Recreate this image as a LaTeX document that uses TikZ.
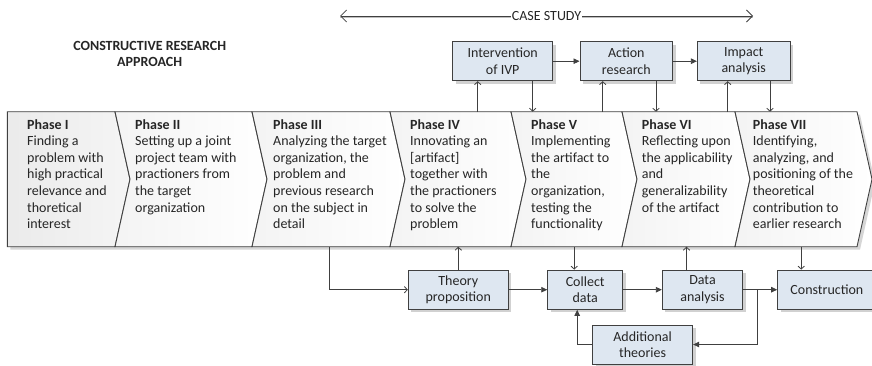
\documentclass[tikz,border=0pt]{standalone}
\usepackage{fontspec}
\setmainfont{Carlito}
\usetikzlibrary{arrows.meta,shadows}
\definecolor{linec}{HTML}{404040}
\definecolor{boxblue}{HTML}{DEE7F1}
\definecolor{txt}{HTML}{262626}
\tikzset{
  fs/.style={font=\fontsize{14pt}{16.6pt}\selectfont},
  bx/.style={fs, draw=linec, line width=0.9pt, fill=boxblue, align=center, inner sep=0pt,
             text=txt, drop shadow={shadow xshift=3pt, shadow yshift=-3pt, fill=black!18, opacity=1}},
  ptext/.style={fs, align=left, anchor=north west, inner sep=0pt, text=txt},
  oarr/.style={draw=linec, line width=0.8pt, -{Straight Barb[length=3pt,width=6.5pt]}},
  farr/.style={draw=linec, line width=0.8pt, -{Triangle[length=6pt,width=5.5pt]}},
  chevron/.style={draw=linec, line width=0.9pt},
}
\begin{document}
\begin{tikzpicture}[x=1pt,y=-1pt]
\useasboundingbox (0,0) rectangle (872,365);

% ---- chevrons ----
\fill[black!16] (10.3,114.7) -- (860,114.7) -- (875,182.2) -- (860,249.7) -- (10.3,249.7) -- cycle;
\path[chevron, left color=gray!16, right color=gray!8]
  (7.3,111.7) -- (115,111.7) -- (130,179.2) -- (115,246.7) -- (7.3,246.7) -- cycle;
\foreach \l/\r in {115/252, 252/390, 390/511, 511/622, 622/735, 735/857}{
  \path[chevron, left color=gray!9, right color=white]
    (\l,111.7) -- (\r,111.7) -- (\r+15,179.2) -- (\r,246.7) -- (\l,246.7) -- (\l+15,179.2) -- cycle;
}
\coordinate (ctop) at (0,111.7);
\coordinate (cbot) at (0,246.7);

\node[ptext] (ph1) at (27,119) {\textbf{Phase I}\\Finding a\\problem with\\high practical\\relevance and\\thoretical\\interest};
\node[ptext] (ph2) at (135,119) {\textbf{Phase II}\\Setting up a joint\\project team with\\practioners from\\the target\\organization};
\node[ptext] (ph3) at (273,119) {\textbf{Phase III}\\Analyzing the target\\organization, the\\problem and\\previous research\\on the subject in\\detail};
\node[ptext] (ph4) at (410,119) {\textbf{Phase IV}\\Innovating an\\{[artifact]}\\together with\\the practioners\\to solve the\\problem};
\node[ptext] (ph5) at (531,119) {\textbf{Phase V}\\Implementing\\the artifact to\\the\\organization,\\testing the\\functionality};
\node[ptext] (ph6) at (641.7,119) {\textbf{Phase VI}\\Reflecting upon\\the applicability\\and\\generalizability\\of the artifact};
\node[ptext] (ph7) at (752.7,119) {\textbf{Phase VII}\\Identifying,\\analyzing, and\\positioning of the\\theoretical\\contribution to\\earlier research};

% ---- title ----
\node[fs, align=center, text=txt, inner sep=0pt] (title) at (149.7,54) {\textbf{CONSTRUCTIVE RESEARCH}\\\textbf{APPROACH}};

% ---- case study arrow ----
\coordinate (csl) at (340,16);
\coordinate (csr) at (753,16);
\draw[black!25, line width=0.8pt] ([yshift=-1.6pt]csl) -- ([yshift=-1.6pt]csr);
\draw[linec, line width=0.8pt, {Straight Barb[length=6pt,width=12pt]}-{Straight Barb[length=6pt,width=12pt]}] (csl) -- (csr);
\node[fs, fill=white, inner sep=1pt, text=txt] (cs) at (546.5,16) {CASE STUDY};

% ---- top boxes ----
\node[bx, minimum width=100pt, minimum height=39pt] (ivp) at (502.7,61.2) {Intervention\\of IVP};
\node[bx, minimum width=92.7pt, minimum height=39pt] (act) at (626.3,61.2) {Action\\research};
\node[bx, minimum width=92.7pt, minimum height=39pt] (imp) at (743.7,61.2) {Impact\\analysis};

\draw[farr] (ivp.east) -- (act.west);
\draw[farr] (act.east) -- (imp.west);
\draw[oarr] ([xshift=-25pt]ivp.south |- ctop) -- ([xshift=-25pt]ivp.south);
\draw[oarr] ([xshift=30pt]ivp.south) -- ([xshift=30pt]ivp.south |- ctop);
\draw[oarr] ([xshift=-23.6pt]act.south |- ctop) -- ([xshift=-23.6pt]act.south);
\draw[oarr] ([xshift=29.7pt]act.south) -- ([xshift=29.7pt]act.south |- ctop);
\draw[oarr] ([xshift=-16pt]imp.south |- ctop) -- ([xshift=-16pt]imp.south);
\draw[oarr] ([xshift=26.3pt]imp.south) -- ([xshift=26.3pt]imp.south |- ctop);

% ---- bottom boxes ----
\node[bx, minimum width=100pt, minimum height=39.3pt] (theo) at (458.3,289.7) {Theory\\proposition};
\node[bx, minimum width=75pt, minimum height=39.3pt] (coll) at (585.2,289.7) {Collect\\data};
\node[bx, minimum width=80.4pt, minimum height=39.3pt] (data) at (702.5,289.7) {Data\\analysis};
\node[bx, minimum width=98.5pt, minimum height=39.3pt] (cons) at (826.9,289.7) {Construction};
\node[bx, minimum width=100.2pt, minimum height=39pt] (addt) at (642.6,344.5) {Additional\\theories};

\coordinate (p3) at (329.3,246.7);
\draw[oarr] (p3) |- (theo.west);
\draw[oarr] (theo.north) -- (theo.north |- cbot);
\draw[farr] (theo.east) -- (coll.west);
\draw[oarr] ([xshift=-11pt]coll.north |- cbot) -- ([xshift=-11pt]coll.north);
\draw[farr] (coll.east) -- (data.west);
\draw[oarr] ([xshift=-16pt]data.north) -- ([xshift=-16pt]data.north |- cbot);
\draw[farr] (data.east) -- (cons.west);
\draw[oarr] ([xshift=24pt]cons.north west |- cbot) -- ([xshift=24pt]cons.north west);
\draw[farr] ([xshift=14.2pt]data.east) |- (addt.east);
\draw[farr] (addt.west) -| ([xshift=-8pt]coll.south);
\end{tikzpicture}
\end{document}
